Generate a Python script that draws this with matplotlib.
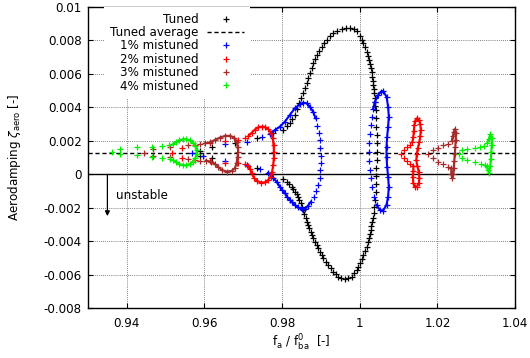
"""
Aerodamping vs. frequency ratio: tuned vs. mistuned blade rows (gnuplot-style look)
"""
import matplotlib
matplotlib.use('Agg')
import matplotlib.pyplot as plt

plt.rcParams['font.family'] = ['DejaVu Sans']
plt.rcParams['mathtext.fontset'] = 'dejavusans'

# ── data ──────────────────────────────────────────────────────────────────
# Tuned: sparse upper branch, closed main loop, sparse lower branch
tuned_x = [0.95882, 0.96183, 0.96783, 0.97341, 0.97768,
           0.98026, 0.98121, 0.98198, 0.98263, 0.98327, 0.98378, 0.98438, 0.98489,
           0.98541, 0.98584, 0.98628, 0.98669, 0.98713, 0.98757, 0.98798, 0.98842,
           0.98885, 0.98945, 0.99014, 0.99073, 0.99143, 0.99228, 0.99313, 0.99421,
           0.99529, 0.99640, 0.99743, 0.99846, 0.99923, 1.00000, 1.00051, 1.00085,
           1.00129, 1.00172, 1.00206, 1.00239, 1.00263, 1.00283, 1.00301, 1.00317,
           1.00329, 1.00342, 1.00355, 1.00368, 1.00378, 1.00386, 1.00396, 1.00404,
           1.00412, 1.00420, 1.00430, 1.00430, 1.00430, 1.00430, 1.00425, 1.00420,
           1.00412, 1.00404, 1.00386, 1.00373, 1.00360, 1.00335, 1.00317, 1.00296,
           1.00283, 1.00257, 1.00232, 1.00206, 1.00172, 1.00129, 1.00085, 1.00044,
           1.00000, 0.99961, 0.99915, 0.99846, 0.99786, 0.99691, 0.99614, 0.99524,
           0.99441, 0.99382, 0.99313, 0.99254, 0.99184, 0.99117, 0.99055, 0.99014,
           0.98970, 0.98927, 0.98885, 0.98842, 0.98798, 0.98764, 0.98739, 0.98700,
           0.98669, 0.98636, 0.98602, 0.98571, 0.98541, 0.98507, 0.98481, 0.98443,
           0.98412, 0.98371, 0.98327, 0.98283, 0.98242, 0.98172, 0.98113, 0.98026,
           0.97735, 0.97341, 0.96183, 0.95882]
tuned_y = [0.00139, 0.00165, 0.00187, 0.00215, 0.00245,
           0.00264, 0.00288, 0.00304, 0.00330, 0.00354, 0.00390, 0.00424, 0.00456,
           0.00484, 0.00515, 0.00543, 0.00575, 0.00603, 0.00635, 0.00663, 0.00688,
           0.00712, 0.00739, 0.00762, 0.00784, 0.00802, 0.00823, 0.00842, 0.00857,
           0.00867, 0.00873, 0.00875, 0.00870, 0.00856, 0.00826, 0.00802, 0.00782,
           0.00757, 0.00732, 0.00706, 0.00682, 0.00658, 0.00633, 0.00608, 0.00583,
           0.00557, 0.00533, 0.00509, 0.00484, 0.00458, 0.00433, 0.00408, 0.00384,
           0.00334, 0.00284, 0.00235, 0.00185, 0.00135, 0.00085, 0.00038, -0.00010,
           -0.00058, -0.00106, -0.00153, -0.00195, -0.00233, -0.00261, -0.00283, -0.00309,
           -0.00333, -0.00356, -0.00382, -0.00407, -0.00432, -0.00458, -0.00482, -0.00506,
           -0.00531, -0.00552, -0.00571, -0.00592, -0.00611, -0.00622, -0.00627, -0.00622,
           -0.00611, -0.00595, -0.00581, -0.00562, -0.00541, -0.00522, -0.00501, -0.00482,
           -0.00462, -0.00442, -0.00422, -0.00402, -0.00382, -0.00362, -0.00343, -0.00322,
           -0.00303, -0.00283, -0.00263, -0.00237, -0.00213, -0.00193, -0.00173, -0.00153,
           -0.00134, -0.00118, -0.00104, -0.00088, -0.00074, -0.00058, -0.00044, -0.00031,
           0.00002, 0.00036, 0.00096, 0.00109]

tuned_average = 0.00125

# 1% mistuned
mis1_top_x = [0.97683, 0.97812, 0.97941, 0.98070, 0.98198, 0.98327, 0.98456,
              0.98541, 0.98628, 0.98713, 0.98798, 0.98860]
mis1_top_y = [0.00241, 0.00264, 0.00284, 0.00314, 0.00354, 0.00394, 0.00418,
              0.00427, 0.00424, 0.00404, 0.00374, 0.00334]
mis1_bot_x = [0.98739, 0.98662, 0.98584, 0.98499, 0.98404, 0.98327, 0.98263, 0.98198,
              0.98134, 0.98070, 0.98005, 0.97941, 0.97856, 0.97761, 0.97640]
mis1_bot_y = [-0.00165, -0.00189, -0.00207, -0.00205, -0.00198, -0.00183, -0.00168, -0.00153,
              -0.00136, -0.00113, -0.00094, -0.00074, -0.00044, -0.00020, 0.00010]
mis1_dots_x = [0.98901, 0.98937, 0.98963, 0.98983, 0.98996, 0.98996, 0.98983, 0.98963,
               0.98927, 0.98880, 0.98816,
               0.95668, 0.96525, 0.97084, 0.97478, 0.97426, 0.97084, 0.96525, 0.95967]
mis1_dots_y = [0.00291, 0.00247, 0.00202, 0.00157, 0.00112, 0.00067, 0.00023, -0.00022,
               -0.00064, -0.00100, -0.00136,
               0.00129, 0.00181, 0.00195, 0.00220, 0.00030, 0.00053, 0.00082, 0.00109]
mis1_right_x = [1.00342, 1.00386, 1.00471, 1.00541, 1.00600, 1.00687, 1.00728, 1.00746,
                1.00728, 1.00703, 1.00687, 1.00687, 1.00703, 1.00728, 1.00746, 1.00728,
                1.00687, 1.00600, 1.00515, 1.00430]
mis1_right_y = [0.00390, 0.00432, 0.00473, 0.00493, 0.00497, 0.00463, 0.00404, 0.00344,
                0.00284, 0.00224, 0.00165, 0.00105, 0.00045, -0.00014, -0.00074, -0.00134,
                -0.00183, -0.00217, -0.00213, -0.00183]
mis1_rdots_x = [1.00368, 1.00317, 1.00283, 1.00257, 1.00239, 1.00232, 1.00232,
                1.00250, 1.00275, 1.00301]
mis1_rdots_y = [-0.00134, -0.00074, -0.00022, 0.00026, 0.00079, 0.00133, 0.00187,
                0.00241, 0.00294, 0.00344]

# 2% mistuned
mis2_loop_x = [0.97125, 0.97212, 0.97297, 0.97387, 0.97485, 0.97568, 0.97645, 0.97709,
               0.97753, 0.97779, 0.97786, 0.97786, 0.97768, 0.97743, 0.97701, 0.97640,
               0.97555, 0.97452, 0.97341, 0.97272, 0.97212, 0.97176, 0.97125]
mis2_loop_y = [0.00226, 0.00247, 0.00267, 0.00281, 0.00284, 0.00281, 0.00270, 0.00248,
               0.00215, 0.00175, 0.00135, 0.00096, 0.00056, 0.00016, -0.00014, -0.00034,
               -0.00048, -0.00050, -0.00038, -0.00020, 0.00006, 0.00030, 0.00050]
mis2_dots_x = [0.95169, 0.95411, 0.95753, 0.96139, 0.96525, 0.96867, 0.97040,
               0.97040, 0.96867, 0.96525, 0.96139, 0.95753, 0.95411]
mis2_dots_y = [0.00129, 0.00155, 0.00172, 0.00184, 0.00196, 0.00204, 0.00214,
               0.00061, 0.00070, 0.00070, 0.00079, 0.00088, 0.00100]
mis2_right_x = [1.01351, 1.01377, 1.01390, 1.01403, 1.01429, 1.01467, 1.01519, 1.01557,
                1.01570, 1.01557, 1.01532, 1.01493, 1.01467, 1.01454, 1.01480, 1.01519,
                1.01532, 1.01519, 1.01467, 1.01416, 1.01377, 1.01364, 1.01377, 1.01377]
mis2_right_y = [0.00190, 0.00223, 0.00258, 0.00294, 0.00321, 0.00334, 0.00327, 0.00300,
                0.00264, 0.00229, 0.00193, 0.00157, 0.00121, 0.00085, 0.00050, 0.00014,
                -0.00022, -0.00052, -0.00076, -0.00076, -0.00052, -0.00016, 0.00020, 0.00050]
mis2_rdots_x = [1.01073, 1.01133, 1.01210, 1.01287, 1.01300, 1.01223, 1.01145]
mis2_rdots_y = [0.00121, 0.00142, 0.00160, 0.00175, 0.00064, 0.00079, 0.00097]

# 3% mistuned
mis3_loop_x = [0.96010, 0.96139, 0.96268, 0.96396, 0.96525, 0.96654, 0.96765, 0.96826,
               0.96852, 0.96867, 0.96852, 0.96826, 0.96783, 0.96698, 0.96569, 0.96440,
               0.96353, 0.96268, 0.96165, 0.96036]
mis3_loop_y = [0.00185, 0.00190, 0.00205, 0.00219, 0.00229, 0.00230, 0.00219, 0.00195,
               0.00165, 0.00135, 0.00105, 0.00066, 0.00036, 0.00020, 0.00016, 0.00026,
               0.00045, 0.00061, 0.00075, 0.00081]
mis3_dots_x = [0.94448, 0.94680, 0.95109, 0.95565, 0.95882,
               0.95882, 0.95565, 0.95109, 0.94680]
mis3_dots_y = [0.00129, 0.00149, 0.00165, 0.00172, 0.00180,
               0.00082, 0.00090, 0.00105, 0.00112]
mis3_right_x = [1.02368, 1.02394, 1.02420, 1.02445, 1.02471, 1.02471, 1.02458, 1.02445,
                1.02432, 1.02420, 1.02407, 1.02381, 1.02355, 1.02355]
mis3_right_y = [0.00199, 0.00229, 0.00253, 0.00270, 0.00247, 0.00205, 0.00163, 0.00121,
                0.00079, 0.00038, 0.00002, -0.00024, 0.00002, 0.00038]
mis3_rdots_x = [1.01758, 1.01887, 1.02015, 1.02144, 1.02273,
                1.02273, 1.02144, 1.02015, 1.01887]
mis3_rdots_y = [0.00121, 0.00145, 0.00159, 0.00172, 0.00181,
                0.00045, 0.00060, 0.00075, 0.00096]

# 4% mistuned
mis4_loop_x = [0.95187, 0.95264, 0.95354, 0.95444, 0.95534, 0.95624, 0.95701, 0.95766,
               0.95799, 0.95799, 0.95766, 0.95701, 0.95624, 0.95534, 0.95444, 0.95354,
               0.95264, 0.95187]
mis4_loop_y = [0.00181, 0.00193, 0.00203, 0.00209, 0.00209, 0.00202, 0.00188, 0.00169,
               0.00145, 0.00121, 0.00097, 0.00076, 0.00061, 0.00053, 0.00054, 0.00061,
               0.00073, 0.00085]
mis4_dots_x = [0.93629, 0.93830, 0.94260, 0.94638, 0.94916, 0.95084,
               0.95109, 0.94916, 0.94638, 0.94260, 0.93830]
mis4_dots_y = [0.00135, 0.00149, 0.00160, 0.00165, 0.00169, 0.00174,
               0.00090, 0.00096, 0.00105, 0.00114, 0.00119]
mis4_right_x = [1.03282, 1.03320, 1.03359, 1.03398, 1.03398, 1.03385, 1.03372, 1.03359,
                1.03333, 1.03295, 1.03269]
mis4_right_y = [0.00187, 0.00211, 0.00238, 0.00217, 0.00175, 0.00133, 0.00091, 0.00050,
                0.00005, 0.00026, 0.00047]
mis4_rdots_x = [1.02561, 1.02625, 1.02772, 1.02960, 1.03089, 1.03205,
                1.03218, 1.03115, 1.02960, 1.02772, 1.02625]
mis4_rdots_y = [0.00124, 0.00142, 0.00148, 0.00157, 0.00163, 0.00169,
                0.00056, 0.00063, 0.00075, 0.00085, 0.00100]

xticks = [0.94, 0.96, 0.98, 1.00, 1.02, 1.04]
xtick_labels = ['0.94', '0.96', '0.98', '1', '1.02', '1.04']
yticks = [-0.008, -0.006, -0.004, -0.002, 0.0, 0.002, 0.004, 0.006, 0.008, 0.010]
ytick_labels = ['-0.008', '-0.006', '-0.004', '-0.002', '0',
                '0.002', '0.004', '0.006', '0.008', '0.01']

labels = ['Tuned', 'Tuned average', '1% mistuned', '2% mistuned',
          '3% mistuned', '4% mistuned']

# ── styles ────────────────────────────────────────────────────────────────
BLACK, BLUE, RED, BROWN, GREEN = '#000000', '#0000ff', '#ff0000', '#a52a2a', '#00f000'
FS = 8.6
MS, MEW = 4.8, 0.9


def dots(ax, xs, ys, color):
    return ax.plot(xs, ys, ls='none', marker='+', ms=MS, mew=MEW, color=color)[0]


def band(ax, xs, ys, color):
    # dense stretches: markers sit so close they merge into a thick trace
    ax.plot(xs, ys, ls='-', lw=1.5, marker='+', ms=MS, mew=MEW, color=color)


fig = plt.figure(figsize=(5.3, 3.58), dpi=100)
ax = fig.add_axes([0.166, 0.139, 0.806, 0.842])

ax.set_xlim(0.93, 1.04)
ax.set_ylim(-0.008, 0.010)
ax.set_xticks(xticks)
ax.set_xticklabels(xtick_labels)
ax.set_yticks(yticks)
ax.set_yticklabels(ytick_labels)
ax.tick_params(direction='in', top=True, right=True, length=3.6, width=0.8,
               labelsize=FS)
ax.tick_params(axis='y', pad=4.5)
ax.tick_params(axis='x', pad=6.5)
ax.grid(True, ls=(0, (1, 1.5)), lw=0.6, color='0.35')
ax.set_axisbelow(True)
for s in ax.spines.values():
    s.set_linewidth(1.0)

ax.axhline(0, color='k', lw=1.0, zorder=1.5)

h_tuned = dots(ax, tuned_x, tuned_y, BLACK)
h_avg = ax.axhline(tuned_average, color='k', lw=1.0, ls=(0, (3, 2)), zorder=1.6)

band(ax, mis1_top_x, mis1_top_y, BLUE)
band(ax, mis1_bot_x, mis1_bot_y, BLUE)
band(ax, mis1_right_x, mis1_right_y, BLUE)
dots(ax, mis1_rdots_x, mis1_rdots_y, BLUE)
h1 = dots(ax, mis1_dots_x, mis1_dots_y, BLUE)

band(ax, mis2_loop_x, mis2_loop_y, RED)
band(ax, mis2_right_x, mis2_right_y, RED)
dots(ax, mis2_rdots_x, mis2_rdots_y, RED)
h2 = dots(ax, mis2_dots_x, mis2_dots_y, RED)

band(ax, mis3_loop_x, mis3_loop_y, BROWN)
band(ax, mis3_right_x, mis3_right_y, BROWN)
dots(ax, mis3_rdots_x, mis3_rdots_y, BROWN)
h3 = dots(ax, mis3_dots_x, mis3_dots_y, BROWN)

band(ax, mis4_loop_x, mis4_loop_y, GREEN)
band(ax, mis4_right_x, mis4_right_y, GREEN)
dots(ax, mis4_rdots_x, mis4_rdots_y, GREEN)
h4 = dots(ax, mis4_dots_x, mis4_dots_y, GREEN)

# "unstable" hint
ax.annotate('', xy=(0.935, -0.0025), xytext=(0.935, 0.0),
            arrowprops=dict(arrowstyle='-|>', lw=0.9, color='k', mutation_scale=7,
                            shrinkA=0, shrinkB=0))
ax.text(0.9372, -0.00124, 'unstable', fontsize=FS, ha='left', va='center')

ax.set_xlabel(r'$\mathregular{f_a\ /\ f_{ba}^{0}}$  [-]', fontsize=FS)
ax.set_ylabel(r'Aerodamping $\zeta_{\mathregular{aero}}$ [-]', fontsize=FS)
ax.xaxis.set_label_coords(0.5, -0.08)
ax.yaxis.set_label_coords(-0.152, 0.5)

leg = ax.legend([h_tuned, h_avg, h1, h2, h3, h4], labels,
                loc='upper right', bbox_to_anchor=(0.3794, 1.0),
                markerfirst=False, frameon=True, fancybox=False,
                edgecolor='none', facecolor='white', framealpha=1,
                borderpad=0.5, borderaxespad=0, handlelength=3.1,
                handletextpad=0.73, labelspacing=0.03, fontsize=FS,
                numpoints=1)

fig.savefig('out.png', dpi=100)
